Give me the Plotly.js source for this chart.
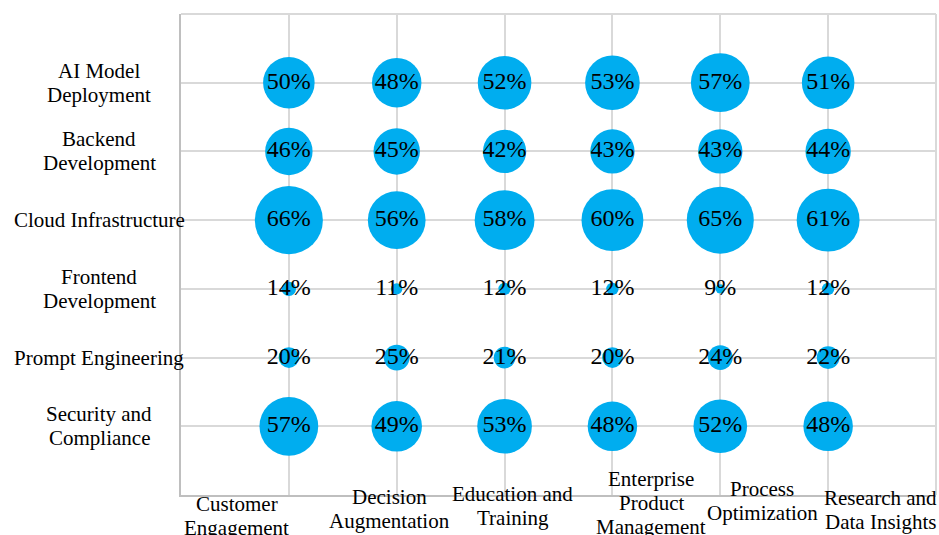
<!DOCTYPE html>
<html>
<head>
<meta charset="utf-8">
<script src="https://cdn.plot.ly/plotly-3.0.1.min.js"></script>
<style>html,body{margin:0;padding:0;background:#fff;}#chart{width:939px;height:535px;}</style>
</head>
<body>
<div id="chart"></div>
<script>
// ---- data ----
var roles = ["AI Model Deployment", "Backend Development", "Cloud Infrastructure", "Frontend Development", "Prompt Engineering", "Security and Compliance"];
var roleLabels = [["AI Model", "Deployment"], ["Backend", "Development"], ["Cloud Infrastructure"], ["Frontend", "Development"], ["Prompt Engineering"], ["Security and", "Compliance"]];
var useCases = ["Customer Engagement", "Decision Augmentation", "Education and Training", "Enterprise Product Management", "Process Optimization", "Research and Data Insights"];
var useCaseLabels = [["Customer", "Engagement"], ["Decision", "Augmentation"], ["Education and", "Training"], ["Enterprise", "Product", "Management"], ["Process", "Optimization"], ["Research and", "Data Insights"]];
var aiModelDeployment = [50, 48, 52, 53, 57, 51];
var backendDevelopment = [46, 45, 42, 43, 43, 44];
var cloudInfrastructure = [66, 56, 58, 60, 65, 61];
var frontendDevelopment = [14, 11, 12, 12, 9, 12];
var promptEngineering = [20, 25, 21, 20, 24, 22];
var securityCompliance = [57, 49, 53, 48, 52, 48];
var seriesByRole = [aiModelDeployment, backendDevelopment, cloudInfrastructure, frontendDevelopment, promptEngineering, securityCompliance];

// ---- style (label placement offsets, px) ----
var xLabelShiftX = [-52, -7, 8, 39, 42, 52];
var xLabelFirstLineY = [504, 497, 494, 479, 489, 498];
var lineGap = 24;
var plotTop = 14, plotBottom = 495, plotLeft = 181;
var FONT = "'Liberation Serif', 'Times New Roman', Times, 'DejaVu Serif', serif";

var xs = [], ys = [], vals = [], txt = [];
for (var r = 0; r < roles.length; r++) {
  for (var c = 0; c < useCases.length; c++) {
    xs.push(useCases[c]);
    ys.push(roles[r]);
    vals.push(seriesByRole[r][c]);
    txt.push(seriesByRole[r][c] + "%");
  }
}

var trace = {
  type: "scatter",
  mode: "markers+text",
  x: xs, y: ys,
  text: txt,
  textposition: "middle center",
  textfont: {family: FONT, size: 24, color: "#000"},
  marker: {size: vals, sizemode: "diameter", sizeref: 0.97, color: "#00ADEF", line: {width: 0}, opacity: 1},
  hoverinfo: "skip",
  cliponaxis: false
};

var annotations = [];
// x category labels
for (var i = 0; i < useCases.length; i++) {
  var lines = useCaseLabels[i];
  for (var k = 0; k < lines.length; k++) {
    var cy = xLabelFirstLineY[i] + k * lineGap;
    annotations.push({
      text: lines[k], showarrow: false,
      xref: "x", x: useCases[i], xshift: xLabelShiftX[i], xanchor: "center",
      yref: "paper", y: 0, yshift: -(cy - plotBottom), yanchor: "middle",
      font: {family: FONT, size: 21, color: "#000"}
    });
  }
}
// y category labels
for (var j = 0; j < roles.length; j++) {
  var ls = roleLabels[j];
  var n = ls.length;
  for (var m = 0; m < n; m++) {
    var off = (m - (n - 1) / 2) * lineGap;
    annotations.push({
      text: ls[m], showarrow: false,
      xref: "paper", x: (99 - plotLeft) / 755, xanchor: "center",
      yref: "y", y: roles[j], yshift: -off, yanchor: "middle",
      font: {family: FONT, size: 21, color: "#000"}
    });
  }
}

var layout = {
  width: 939, height: 535,
  margin: {l: 181, r: 3, t: 14, b: 40, pad: 0},
  paper_bgcolor: "#fff", plot_bgcolor: "#fff",
  font: {family: FONT},
  showlegend: false,
  hovermode: false,
  xaxis: {
    type: "category", categoryorder: "array", categoryarray: useCases,
    range: [-1, 6], showticklabels: false, ticks: "",
    showgrid: true, gridcolor: "#d9d9d9", gridwidth: 2,
    showline: true, linecolor: "#bfbfbf", linewidth: 2, zeroline: false, fixedrange: true
  },
  yaxis: {
    type: "category", categoryorder: "array", categoryarray: roles,
    range: [6, -1], showticklabels: false, ticks: "",
    showgrid: true, gridcolor: "#d9d9d9", gridwidth: 2,
    showline: true, linecolor: "#bfbfbf", linewidth: 2, zeroline: false, fixedrange: true
  },
  shapes: [
    {type: "line", xref: "paper", yref: "paper", x0: 0, x1: 1, y0: 1, y1: 1, line: {color: "#d9d9d9", width: 2}, layer: "below"},
    {type: "line", xref: "paper", yref: "paper", x0: 1, x1: 1, y0: 0, y1: 1, line: {color: "#d9d9d9", width: 2}, layer: "below"}
  ],
  annotations: annotations
};

Plotly.newPlot("chart", [trace], layout, {displayModeBar: false, staticPlot: true});
</script>
</body>
</html>
